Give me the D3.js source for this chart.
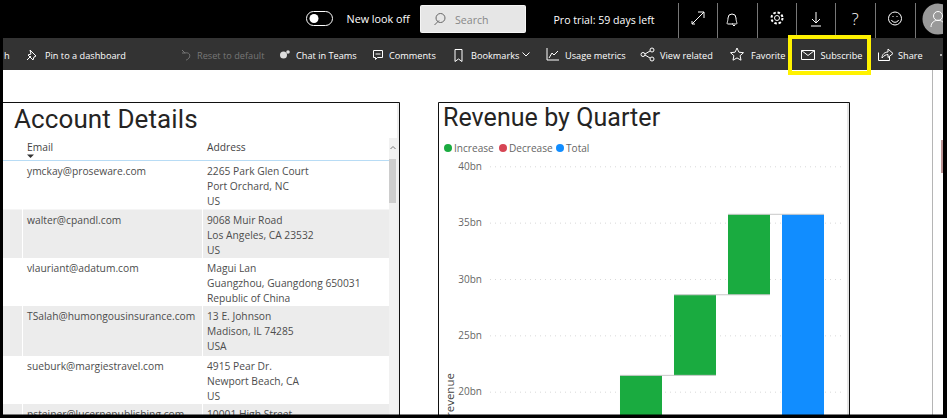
<!DOCTYPE html>
<html>
<head>
<meta charset="utf-8">
<script src="https://cdn.jsdelivr.net/npm/d3@7"></script>
<style>
  html, body { margin: 0; padding: 0; background: #fff; overflow: hidden; }
  svg { display: block; }
  text { font-family: "Open Sans", sans-serif; }
</style>
</head>
<body>
<svg id="chart" width="947" height="418"></svg>
<script>
const quarters = ["Q1", "Q2", "Q3", "Q4"];
const increases = [14.3, 7.15, 7.15, 7.14];
const totalLabel = "Total";
const yTicks = [0, 5, 10, 15, 20, 25, 30, 35, 40];

const legendLabels = ["Increase", "Decrease", "Total"];
const legendColors = ["#1AAB40", "#D64554", "#118DFF"];
const legendX = [448, 503, 560];

const emails = [
  "ymckay@proseware.com", "walter@cpandl.com", "vlauriant@adatum.com",
  "TSalah@humongousinsurance.com", "sueburk@margiestravel.com", "psteiner@lucernepublishing.com"
];
const addresses = [
  ["2265 Park Glen Court", "Port Orchard, NC", "US"],
  ["9068 Muir Road", "Los Angeles, CA 23532", "US"],
  ["Magui Lan", "Guangzhou, Guangdong 650031", "Republic of China"],
  ["13 E. Johnson", "Madison, IL 74285", "USA"],
  ["4915 Pear Dr.", "Newport Beach, CA", "US"],
  ["10001 High Street", "", ""]
];

const toolbarLabels = ["h", "Pin to a dashboard", "Reset to default", "Chat in Teams", "Comments",
  "Bookmarks", "Usage metrics", "View related", "Favorite", "Subscribe", "Share"];
const toolbarX = [4, 45, 197, 296, 389, 471, 565, 660, 751, 820.5, 898];

const svg = d3.select("#chart");

// ---- report area

const rowTops = [161, 209.5, 258, 306, 356, 404];

const tableG = svg.append("g");

tableG.selectAll("rect.row")
  .data(emails)
  .join("rect")
  .attr("class", "row")
  .attr("x", 3)
  .attr("y", (d, i) => rowTops[i])
  .attr("width", 386)
  .attr("height", (d, i) => (rowTops[i + 1] || 418) - rowTops[i])
  .attr("fill", (d, i) => i % 2 ? "#ececec" : "#fff");

[22.5, 202.5].forEach(x => tableG.append("line")
  .attr("x1", x).attr("x2", x).attr("y1", 161).attr("y2", 418)
  .attr("stroke", "#fff"));

tableG.append("line")
  .attr("x1", 3).attr("x2", 389).attr("y1", 160.5).attr("y2", 160.5)
  .attr("stroke", "#b8dcf5");

tableG.selectAll("text.email")
  .data(emails)
  .join("text")
  .attr("class", "email")
  .attr("x", 27)
  .attr("y", (d, i) => rowTops[i] + 14)
  .attr("font-size", 10.25)
  .attr("fill", "#4d4d4d")
  .text(d => d);

addresses.forEach((lines, i) => {
  lines.forEach((line, j) => {
    tableG.append("text")
      .attr("x", 207)
      .attr("y", rowTops[i] + 14 + j * 15)
      .attr("font-size", 10.25)
      .attr("fill", "#4d4d4d")
      .text(line);
  });
});

tableG.append("text").attr("x", 27).attr("y", 151).attr("font-size", 10.25).attr("fill", "#444").text("Email");
tableG.append("text").attr("x", 207).attr("y", 151).attr("font-size", 10.25).attr("fill", "#444").text("Address");
tableG.append("path").attr("d", "M27 154.5h7l-3.5 3.5z").attr("fill", "#333");

// scrollbar
tableG.append("rect").attr("x", 389).attr("y", 138).attr("width", 8).attr("height", 280).attr("fill", "#f1f1f1");
tableG.append("rect").attr("x", 389).attr("y", 159).attr("width", 7).attr("height", 44).attr("fill", "#cdcdcd");
tableG.append("path").attr("d", "M390.5 149l2.5-2.5 2.5 2.5").attr("fill", "none").attr("stroke", "#777");

// panel frames
svg.append("path").attr("d", "M3 102.5H399.5V418").attr("fill", "none").attr("stroke", "#111");
svg.append("path").attr("d", "M438.5 418V102.5H849.5V418").attr("fill", "none").attr("stroke", "#111");
svg.append("line").attr("x1", 848).attr("x2", 848).attr("y1", 103).attr("y2", 418).attr("stroke", "#ccc");
svg.append("line").attr("x1", 398).attr("x2", 398).attr("y1", 103).attr("y2", 418).attr("stroke", "#ddd");
svg.append("line").attr("x1", 932.5).attr("x2", 932.5).attr("y1", 70).attr("y2", 418).attr("stroke", "#b5b5b5");
svg.append("line").attr("x1", 942).attr("x2", 942).attr("y1", 140).attr("y2", 173).attr("stroke", "#7a2a2a");

svg.append("text")
  .attr("x", 14).attr("y", 128)
  .attr("font-size", 26).attr("fill", "#252423")
  .style("font-family", "Roboto")
  .style("letter-spacing", "0.1px")
  .text("Account Details");

svg.append("text")
  .attr("x", 443).attr("y", 126)
  .attr("font-size", 25).attr("fill", "#252423")
  .style("font-family", "Roboto")
  .style("letter-spacing", "0.05px")
  .text("Revenue by Quarter");

// ---- legend

const legend = svg.append("g");
legend.selectAll("circle")
  .data(legendLabels)
  .join("circle")
  .attr("cx", (d, i) => legendX[i])
  .attr("cy", 148)
  .attr("r", 4)
  .attr("fill", (d, i) => legendColors[i]);
legend.selectAll("text")
  .data(legendLabels)
  .join("text")
  .attr("x", (d, i) => legendX[i] + 6)
  .attr("y", 152)
  .attr("font-size", 10.1)
  .attr("fill", "#666")
  .text(d => d);

// ---- waterfall

const x = d3.scaleBand()
  .domain([...quarters, totalLabel])
  .range([490, 845])
  .paddingInner(0.2222)
  .paddingOuter(0.898)
  .align(0.7835);

const y = d3.scaleLinear().domain([0, 40]).range([617.1, 166.3]);

const ends = Array.from(d3.cumsum(increases));
const starts = ends.map((d, i) => i ? ends[i - 1] : 0);
const total = ends[ends.length - 1];

const yAxis = d3.axisLeft(y)
  .tickValues(yTicks)
  .tickFormat(d => d + "bn")
  .tickSize(-355)
  .tickPadding(8);

const yG = svg.append("g")
  .attr("transform", "translate(490,0)")
  .call(yAxis);
yG.select(".domain").remove();
yG.selectAll("line")
  .attr("stroke", "#d9d9d9")
  .attr("stroke-dasharray", "1,4");
yG.selectAll("text")
  .attr("font-size", 10)
  .attr("fill", "#666");

svg.append("text")
  .attr("transform", "translate(454,417) rotate(-90)")
  .attr("font-size", 11.5)
  .attr("fill", "#444")
  .text("revenue");

svg.selectAll("rect.bar")
  .data(quarters)
  .join("rect")
  .attr("class", "bar")
  .attr("x", d => x(d))
  .attr("width", x.bandwidth())
  .attr("y", (d, i) => y(ends[i]))
  .attr("height", (d, i) => y(starts[i]) - y(ends[i]))
  .attr("fill", legendColors[0]);

svg.append("rect")
  .attr("x", x(totalLabel))
  .attr("width", x.bandwidth())
  .attr("y", y(total))
  .attr("height", y(0) - y(total))
  .attr("fill", legendColors[2]);

// connectors between steps
svg.selectAll("line.conn")
  .data(quarters)
  .join("line")
  .attr("class", "conn")
  .attr("x1", d => x(d))
  .attr("x2", (d, i) => x(i < quarters.length - 1 ? quarters[i + 1] : totalLabel) + x.bandwidth())
  .attr("y1", (d, i) => y(ends[i]))
  .attr("y2", (d, i) => y(ends[i]))
  .attr("stroke", "#c8c8c8");

// ---- top bars

svg.append("rect").attr("width", 947).attr("height", 38).attr("fill", "#000");
svg.append("rect").attr("y", 38).attr("width", 947).attr("height", 32).attr("fill", "#333");

// toggle
svg.append("rect").attr("x", 306.5).attr("y", 11.5).attr("width", 26).attr("height", 14).attr("rx", 7)
  .attr("fill", "none").attr("stroke", "#fff");
svg.append("circle").attr("cx", 314).attr("cy", 18.5).attr("r", 4.5).attr("fill", "#fff");
svg.append("text").attr("x", 346.5).attr("y", 23).attr("font-size", 10.8).attr("fill", "#fff").text("New look off");

// search box
svg.append("rect").attr("x", 420.5).attr("y", 5.5).attr("width", 105).attr("height", 27).attr("rx", 1)
  .attr("fill", "#e6e6e6").attr("stroke", "#f5f5f5");
svg.append("path").attr("d", "M434.5 25l4.5-4.5m6-2.5a4.5 4.500 0 1 1-9 0a4.500 4.500 0 1 1 9 0")
  .attr("fill", "none").attr("stroke", "#666");
svg.append("text").attr("x", 455).attr("y", 24).attr("font-size", 10.6).attr("fill", "#888").text("Search");

svg.append("text").attr("x", 553.5).attr("y", 24).attr("font-size", 10.6).attr("fill", "#fff").text("Pro trial: 59 days left");

[678.5, 717.5, 757.5, 796.5, 835.5, 875.5, 915.5].forEach(sx => svg.append("line")
  .attr("x1", sx).attr("x2", sx).attr("y1", 3).attr("y2", 38).attr("stroke", "#777"));

const iconStroke = (d, color = "#fff") => svg.append("path")
  .attr("d", d).attr("fill", "none").attr("stroke", color).attr("stroke-width", 1);

// top icons
iconStroke("M692 24l12-12m-6 0h6v6m-12 0");
iconStroke("M692 24h3m-3 0v-3");
iconStroke("M733 24h-1m4 0c2 0 0-2 0-6a3.800 3.800 0 0 0-8 0c0 4-2 6 0 6zM735 25.500h-2");
svg.append("circle").attr("cx", 777).attr("cy", 18).attr("r", 2.5).attr("fill", "none").attr("stroke", "#fff");
svg.append("circle").attr("cx", 777).attr("cy", 18).attr("r", 5.5).attr("fill", "none").attr("stroke", "#fff").attr("stroke-width", 2).attr("stroke-dasharray", "2.5,1.8");
iconStroke("M816 12v11m-4-4l4 4 4-4M811 26h10");
svg.append("text").attr("x", 855).attr("y", 25).attr("text-anchor", "middle").attr("font-size", 17).style("font-weight", 300).attr("fill", "#fff").text("?");
svg.append("circle").attr("cx", 895).attr("cy", 18.5).attr("r", 6.5).attr("fill", "none").attr("stroke", "#fff");
iconStroke("M891.500 20c1 3 6 3 7 0M892.500 16.500h1M896.500 16.500h1");

// avatar
svg.append("circle").attr("cx", 938).attr("cy", 19).attr("r", 15.5).attr("fill", "#999");
svg.append("circle").attr("cx", 938).attr("cy", 16).attr("r", 4.5).attr("fill", "none").attr("stroke", "#fff");
iconStroke("M931 27c0-9 14-9 14 0");

// toolbar labels
svg.selectAll("text.tool")
  .data(toolbarLabels)
  .join("text")
  .attr("class", "tool")
  .attr("x", (d, i) => toolbarX[i])
  .attr("y", 58.5)
  .attr("font-size", 9.2)
  .attr("fill", d => d === "Reset to default" ? "#777" : "#fff")
  .text(d => d);

// toolbar icons
iconStroke("M27 60l4-4m-1-6l6 6-2 1-1 3-5-5 3-1z");
iconStroke("M182 50l3 3h-3m3 0c4-1 6 2 4 5-1 1-2 2-3 2", "#777");
svg.append("circle").attr("cx", 283.5).attr("cy", 55).attr("r", 3.5).attr("fill", "#ddd");
svg.append("circle").attr("cx", 288).attr("cy", 52).attr("r", 1.8).attr("fill", "#ddd");
iconStroke("M373.500 50.500h9v7h-5l-2 2v-2h-2zM375.500 54h5");
iconStroke("M455 49.500h7v12l-3.500-2.500-3.500 2.500z");
iconStroke("M522.500 52.500l3.500 3.500 3.500-3.500");
iconStroke("M547 48v12h12M549 58l3-5 2 2 4-4");
svg.append("circle").attr("cx", 643).attr("cy", 54.5).attr("r", 2).attr("fill", "none").attr("stroke", "#fff");
svg.append("circle").attr("cx", 652).attr("cy", 50).attr("r", 2).attr("fill", "none").attr("stroke", "#fff");
svg.append("circle").attr("cx", 652).attr("cy", 59).attr("r", 2).attr("fill", "none").attr("stroke", "#fff");
iconStroke("M645 54l5-3m-5 4l5 3");
iconStroke("M737 48l1.900 4.200 4.600.5-3.400 3 .9 4.500-4-2.300-4 2.300.9-4.500-3.400-3 4.600-.5z");
iconStroke("M801.500 50.500h13v9h-13zM801.500 50.500l6.500 5 6.500-5");
iconStroke("M878.500 52.500v8h11v-4M882 58c0-4 3-6 6-6v-3l5 4.500-5 4v-3c-2 0-4 1-6 3.500z");
svg.append("circle").attr("cx", 941).attr("cy", 55).attr("r", 1).attr("fill", "#ddd");

// yellow highlight
svg.append("rect").attr("x", 790).attr("y", 37).attr("width", 79).attr("height", 36)
  .attr("fill", "none").attr("stroke", "#FFF200").attr("stroke-width", 4);

// screenshot frame
svg.append("rect").attr("x", 1.5).attr("y", -5).attr("width", 943).attr("height", 421)
  .attr("fill", "none").attr("stroke", "#000").attr("stroke-width", 3);
svg.append("rect").attr("x", 943).attr("width", 4).attr("height", 418).attr("fill", "#000");
svg.append("rect").attr("y", 415).attr("width", 947).attr("height", 3).attr("fill", "#000");
</script>
</body>
</html>
